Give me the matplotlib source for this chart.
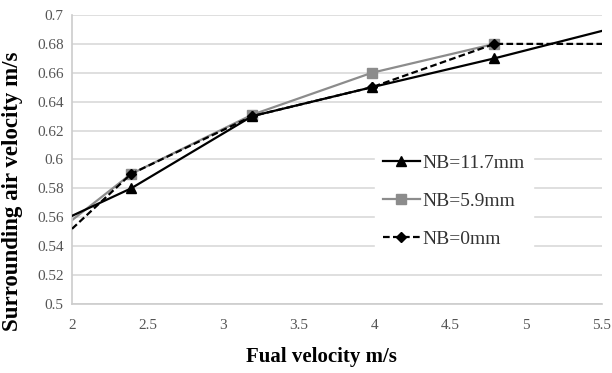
import numpy as np
import matplotlib.pyplot as plt

# series values (first and last points carry no marker)
x_117 = [2.0, 2.39, 3.19, 3.98, 4.79, 5.5]
y_117 = [0.561, 0.58, 0.63, 0.65, 0.67, 0.689]

x_59 = [2.0, 2.39, 3.19, 3.98, 4.79]
y_59 = [0.558, 0.59, 0.631, 0.66, 0.68]

x_0 = [2.0, 2.39, 3.19, 3.98, 4.79, 5.5]
y_0 = [0.552, 0.59, 0.63, 0.65, 0.68, 0.68]

xticks = [2, 2.5, 3, 3.5, 4, 4.5, 5, 5.5]
yticks = [0.5, 0.52, 0.54, 0.56, 0.58, 0.6, 0.62, 0.64, 0.66, 0.68, 0.7]

plt.rcParams['font.family'] = ['Liberation Serif', 'DejaVu Serif']

fig = plt.figure(figsize=(6.12, 3.73), dpi=100)
ax = fig.add_axes([72/612, 1 - 304/373, 530/612, 289/373])

ax.plot(x_117, y_117, color='black', lw=1.6, marker='^', ms=7.5,
        markevery=[1, 2, 3, 4], label='NB=11.7mm', zorder=3)
ax.plot(x_59, y_59, color='#8c8c8c', lw=1.6, marker='s', ms=7,
        markevery=[1, 2, 3, 4], label='NB=5.9mm', zorder=2)
ax.plot(x_0, y_0, color='black', lw=1.6, ls=(0, (3, 1.5)), marker='D', ms=5.5,
        markevery=[1, 2, 3, 4], label='NB=0mm', zorder=4)

ax.set_xlim(2, 5.5)
ax.set_ylim(0.5, 0.7)
ax.set_xticks(xticks)
ax.set_xticklabels([f'{v:g}' for v in xticks])
ax.set_yticks(yticks)
ax.set_yticklabels([f'{v:g}' for v in yticks])
ax.tick_params(length=0, labelsize=11, colors='#555555', pad=11)
ax.tick_params(axis='y', pad=6)
ax.grid(axis='y', color='#d9d9d9', lw=1.2)
ax.set_axisbelow(True)
for s in ['top', 'right']:
    ax.spines[s].set_visible(False)
for s in ['left', 'bottom']:
    ax.spines[s].set_color('#cccccc')
    ax.spines[s].set_linewidth(1.2)

ax.set_xlabel('Fual velocity m/s', fontsize=15, fontweight='bold')
ax.set_ylabel('Surrounding air velocity m/s', fontsize=16.5, fontweight='bold')
ax.xaxis.set_label_coords(0.47, -0.148)
ax.yaxis.set_label_coords(-0.092, 0.39)

leg = ax.legend(loc='center left', bbox_to_anchor=(375/612, 1 - 201/373),
                bbox_transform=fig.transFigure, frameon=True, fontsize=14,
                handlelength=1.9, labelspacing=1.05, borderpad=0.4,
                borderaxespad=0, handletextpad=0.15)
leg.get_frame().set_edgecolor('white')
leg.get_frame().set_facecolor('white')
leg.get_frame().set_alpha(1)
for t in leg.get_texts():
    t.set_color('#333333')

fig.savefig('out.png', dpi=100)
